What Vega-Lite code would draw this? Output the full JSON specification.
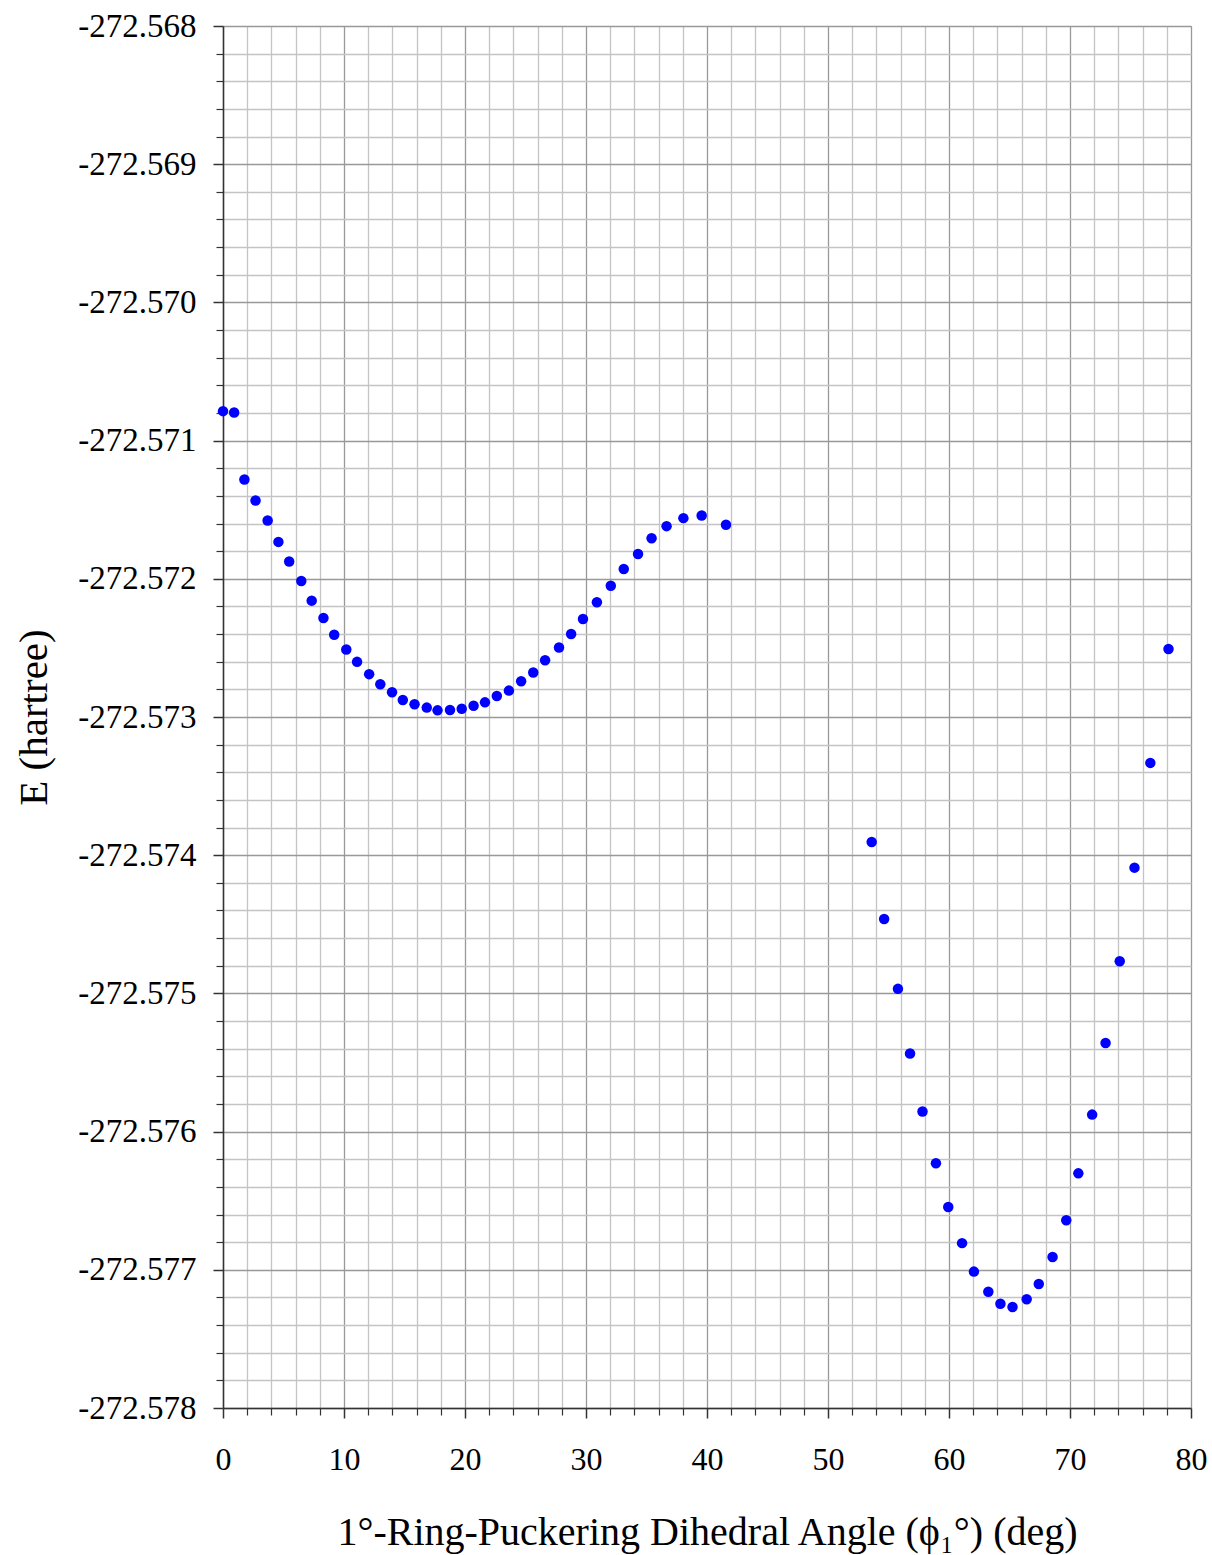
{
  "$schema": "https://vega.github.io/schema/vega-lite/v6.json",
  "width": 968,
  "height": 1382,
  "autosize": "none",
  "padding": {"left": 223, "top": 26, "right": 21, "bottom": 147},
  "background": "white",
  "config": {
    "view": {"stroke": "#999999", "strokeWidth": 1},
    "font": "Liberation Serif"
  },
  "data": {
    "values": [
      {"angle": 0.0, "E": -272.570787},
      {"angle": 0.92, "E": -272.570797},
      {"angle": 1.77, "E": -272.571281},
      {"angle": 2.69, "E": -272.571433},
      {"angle": 3.69, "E": -272.571578},
      {"angle": 4.58, "E": -272.571733},
      {"angle": 5.47, "E": -272.571875},
      {"angle": 6.47, "E": -272.572016},
      {"angle": 7.33, "E": -272.572158},
      {"angle": 8.30, "E": -272.572284},
      {"angle": 9.19, "E": -272.572405},
      {"angle": 10.19, "E": -272.572511},
      {"angle": 11.08, "E": -272.572601},
      {"angle": 12.08, "E": -272.57269},
      {"angle": 13.0, "E": -272.572763},
      {"angle": 13.97, "E": -272.572821},
      {"angle": 14.86, "E": -272.572877},
      {"angle": 15.83, "E": -272.572908},
      {"angle": 16.84, "E": -272.572932},
      {"angle": 17.73, "E": -272.572952},
      {"angle": 18.76, "E": -272.572949},
      {"angle": 19.73, "E": -272.57294},
      {"angle": 20.71, "E": -272.572918},
      {"angle": 21.65, "E": -272.572894},
      {"angle": 22.63, "E": -272.572848},
      {"angle": 23.63, "E": -272.572809},
      {"angle": 24.64, "E": -272.572741},
      {"angle": 25.64, "E": -272.572678},
      {"angle": 26.62, "E": -272.572589},
      {"angle": 27.77, "E": -272.572497},
      {"angle": 28.77, "E": -272.5724},
      {"angle": 29.75, "E": -272.572291},
      {"angle": 30.9, "E": -272.57217},
      {"angle": 32.05, "E": -272.57205},
      {"angle": 33.12, "E": -272.571929},
      {"angle": 34.3, "E": -272.57182},
      {"angle": 35.42, "E": -272.571706},
      {"angle": 36.66, "E": -272.571619},
      {"angle": 38.05, "E": -272.571561},
      {"angle": 39.56, "E": -272.571542},
      {"angle": 41.57, "E": -272.571609},
      {"angle": 53.61, "E": -272.573904},
      {"angle": 54.64, "E": -272.574462},
      {"angle": 55.78, "E": -272.574967},
      {"angle": 56.78, "E": -272.575435},
      {"angle": 57.81, "E": -272.575854},
      {"angle": 58.92, "E": -272.576229},
      {"angle": 59.94, "E": -272.576545},
      {"angle": 61.08, "E": -272.576807},
      {"angle": 62.06, "E": -272.577013},
      {"angle": 63.25, "E": -272.577159},
      {"angle": 64.25, "E": -272.577246},
      {"angle": 65.25, "E": -272.577269},
      {"angle": 66.42, "E": -272.577213},
      {"angle": 67.42, "E": -272.577103},
      {"angle": 68.56, "E": -272.576907},
      {"angle": 69.69, "E": -272.576641},
      {"angle": 70.69, "E": -272.576302},
      {"angle": 71.83, "E": -272.575877},
      {"angle": 72.94, "E": -272.575359},
      {"angle": 74.11, "E": -272.574767},
      {"angle": 75.33, "E": -272.57409},
      {"angle": 76.64, "E": -272.573332},
      {"angle": 78.14, "E": -272.572508}
    ]
  },
  "resolve": {"axis": {"x": "independent", "y": "independent"}},
  "layer": [
    {
      "mark": {"type": "point", "opacity": 0},
      "encoding": {
        "x": {
          "field": "angle", "type": "quantitative",
          "scale": {"domain": [0, 80], "nice": false, "zero": false},
          "axis": {
            "orient": "bottom",
            "values": [2, 4, 6, 8, 12, 14, 16, 18, 22, 24, 26, 28, 32, 34, 36, 38, 42, 44, 46, 48, 52, 54, 56, 58, 62, 64, 66, 68, 72, 74, 76, 78],
            "grid": true, "gridColor": "#c4c4c4", "gridWidth": 1.3, "gridOpacity": 1,
            "labels": false, "domain": false, "title": null,
            "ticks": true, "tickSize": 7, "tickColor": "#333333", "tickWidth": 1.2
          }
        },
        "y": {
          "field": "E", "type": "quantitative",
          "scale": {"domain": [-272.578, -272.568], "nice": false, "zero": false},
          "axis": {
            "orient": "left",
            "values": [-272.5778, -272.5776, -272.5774, -272.5772, -272.5768, -272.5766, -272.5764, -272.5762, -272.5758, -272.5756, -272.5754, -272.5752, -272.5748, -272.5746, -272.5744, -272.5742, -272.5738, -272.5736, -272.5734, -272.5732, -272.5728, -272.5726, -272.5724, -272.5722, -272.5718, -272.5716, -272.5714, -272.5712, -272.5708, -272.5706, -272.5704, -272.5702, -272.5698, -272.5696, -272.5694, -272.5692, -272.5688, -272.5686, -272.5684, -272.5682],
            "grid": true, "gridColor": "#c4c4c4", "gridWidth": 1.3, "gridOpacity": 1,
            "labels": false, "domain": false, "title": null,
            "ticks": true, "tickSize": 7, "tickColor": "#333333", "tickWidth": 1.2
          }
        }
      }
    },
    {
      "mark": {"type": "point", "filled": true, "shape": "circle", "size": 110, "color": "#0000ff", "opacity": 1},
      "encoding": {
        "x": {
          "field": "angle", "type": "quantitative",
          "scale": {"domain": [0, 80], "nice": false, "zero": false},
          "axis": {
            "orient": "bottom",
            "values": [0, 10, 20, 30, 40, 50, 60, 70, 80],
            "grid": true, "gridColor": "#999999", "gridWidth": 1.3, "gridOpacity": 1,
            "domain": true, "domainColor": "#333333", "domainWidth": 1.5,
            "ticks": true, "tickSize": 10, "tickColor": "#333333", "tickWidth": 1.5,
            "labelFont": "Liberation Serif", "labelFontSize": 32, "labelColor": "#000000",
            "labelPadding": 26, "labelFlush": false,
            "title": "1°-Ring-Puckering Dihedral Angle (ϕ₁°) (deg)",
            "titleFont": "Liberation Serif", "titleFontSize": 40, "titleFontWeight": "normal",
            "titleColor": "#000000", "titlePadding": 37
          }
        },
        "y": {
          "field": "E", "type": "quantitative",
          "scale": {"domain": [-272.578, -272.568], "nice": false, "zero": false},
          "axis": {
            "orient": "left",
            "values": [-272.578, -272.577, -272.576, -272.575, -272.574, -272.573, -272.572, -272.571, -272.57, -272.569, -272.568],
            "labelExpr": "'-' + format(-datum.value, '.3f')",
            "grid": true, "gridColor": "#999999", "gridWidth": 1.3, "gridOpacity": 1,
            "domain": true, "domainColor": "#333333", "domainWidth": 1.5,
            "ticks": true, "tickSize": 10, "tickColor": "#333333", "tickWidth": 1.5,
            "labelFont": "Liberation Serif", "labelFontSize": 33, "labelColor": "#000000",
            "labelPadding": 17, "labelFlush": false,
            "title": "E (hartree)",
            "titleFont": "Liberation Serif", "titleFontSize": 41, "titleFontWeight": "normal",
            "titleColor": "#000000", "titlePadding": 22
          }
        }
      }
    }
  ]
}
